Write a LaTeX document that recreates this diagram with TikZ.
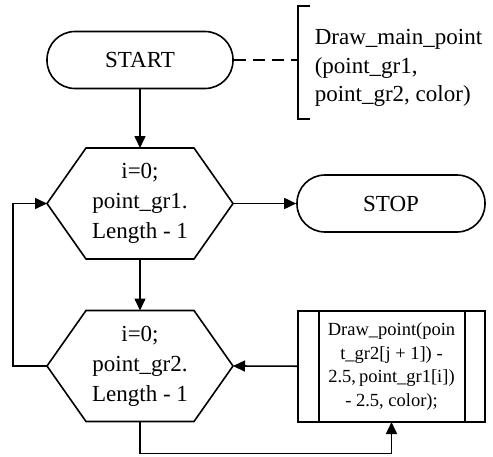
\documentclass[tikz,border=0pt]{standalone}
\usepackage{fontspec}
\setmainfont{Liberation Serif}
\usepackage{tikz}
\usetikzlibrary{arrows.meta, calc, positioning}

\begin{document}
\begin{tikzpicture}[
  x=1pt, y=1pt,
  line width=1.6pt,
  term/.style={rectangle, draw, rounded corners=28pt, minimum width=186pt, minimum height=57pt, font=\fontsize{23}{29}\selectfont},
  hexbox/.style={rectangle, inner sep=0pt, outer sep=0pt, minimum width=186pt, minimum height=111pt, align=center, font=\fontsize{23}{30}\selectfont},
  subbox/.style={rectangle, draw, inner sep=0pt, outer sep=0pt, minimum width=187pt, minimum height=111pt, align=center, font=\fontsize{18.5}{23.5}\selectfont},
  arrow/.style={-{Triangle[length=12pt, width=11pt]}},
]
\useasboundingbox (0,0) rectangle (493,-456);

% Nodes
\node[term] (start) at (140,-60) {START};
\node[hexbox] (hexa) at (140,-203.5) {i=0;\\point\_gr1.\\Length - 1};
\node[term, minimum width=188pt] (stop) at (391,-203.5) {STOP};
\node[hexbox] (hexb) at (140,-366) {i=0;\\point\_gr2.\\Length - 1};
\node[subbox] (sub) at (391.5,-366.5) {Draw\_point(poin\\t\_gr2[j + 1]) -\\2.5,\,point\_gr1[i])\\- 2.5, color);};

% Hexagon outlines
\foreach \h in {hexa, hexb}
  \draw (\h.west) -- ([xshift=39pt]\h.north west) -- ([xshift=-39pt]\h.north east)
    -- (\h.east) -- ([xshift=-39pt]\h.south east) -- ([xshift=39pt]\h.south west) -- cycle;

% Subroutine side bars
\draw ([xshift=21pt]sub.north west) -- ([xshift=21pt]sub.south west);
\draw ([xshift=-20pt]sub.north east) -- ([xshift=-20pt]sub.south east);

% Comment bracket
\coordinate (brtop) at (298,-6);
\coordinate (brbot) at (298,-119);
\draw ([xshift=12pt]brtop) -- (brtop) -- (brbot) -- ++(12pt,0);
\node[anchor=west, align=left, inner sep=2pt, font=\fontsize{23}{28.5}\selectfont] (note) at (312,-68)
  {Draw\_main\_point\\(point\_gr1,\\point\_gr2, color)};
\draw[dash pattern=on 12pt off 7pt] (start.east) -- (start.east -| brtop);

% Arrows
\draw[arrow] (start) -- (hexa);
\draw[arrow] (hexa.east) -- (stop);
\draw[arrow] (hexa) -- (hexb);
\draw[arrow] (sub) -- (hexb.east);
\draw[arrow] (hexb.west) -- ++(-34pt,0) |- (hexa.west);
\draw[arrow] (hexb.south) -- ++(0,-32pt) -| (sub.south);
\end{tikzpicture}
\end{document}
